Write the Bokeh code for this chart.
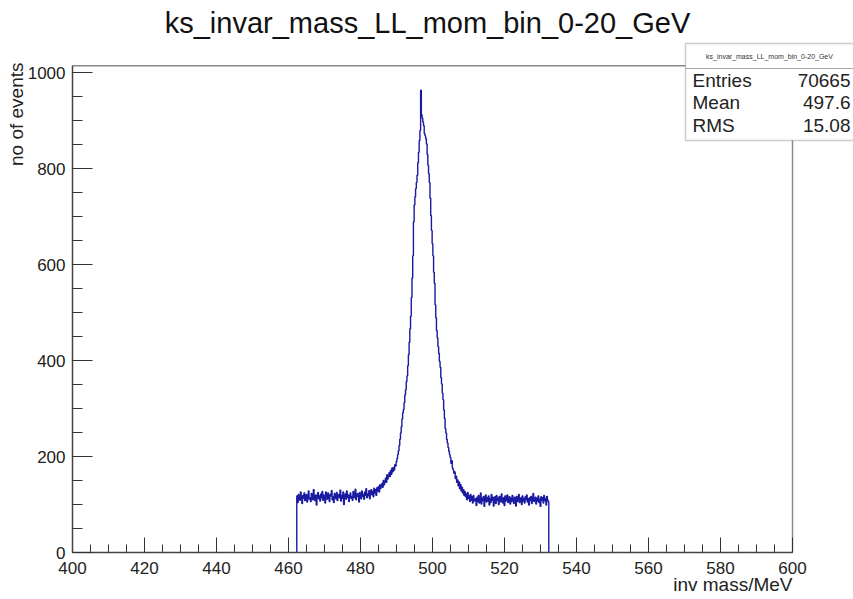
import numpy as np
from bokeh.plotting import figure
from bokeh.models import Range1d, Label, BoxAnnotation, FixedTicker, Title
from bokeh.embed import file_html
from bokeh.resources import INLINE

# ---------------- data ----------------
title_text = "ks_invar_mass_LL_mom_bin_0-20_GeV"
x_title = "inv mass/MeV"
y_title = "no of events"
bin_lo = 462.3
bin_width = 0.2

bg_left = [
    118, 104, 121, 112, 109, 126, 115, 102, 119, 113, 124, 108, 116, 121, 105, 117, 128, 111,
    114, 106, 123, 119, 110, 131, 116, 108, 120, 99, 117, 125, 112, 118, 107, 122, 114, 127,
    109, 120, 113, 103, 126, 117, 111, 124, 115, 106, 121, 118, 129, 110, 116, 104, 123, 119,
    112, 125, 108, 118, 121, 114, 130, 107, 119, 113, 126, 100, 117, 122, 111, 128, 115, 120,
    106, 119, 124, 113, 117, 109, 127, 121, 114, 132, 110, 118, 123, 116, 105, 125, 119, 112,
    128, 117, 121, 111, 126, 119, 133, 114, 122, 118, 129, 112, 124, 131, 120, 127, 116, 134,
]
rise = [
    124, 131, 119, 135, 128,
    137, 126, 141, 133, 139,
    144, 136, 150, 141, 148,
    155, 146, 162, 153, 159,
    166, 158, 171, 163, 176,
    168, 177, 172, 183, 180,
    189, 196, 204, 212, 223,
    236, 249, 262, 278, 291,
    298, 312, 328, 339, 356,
    368, 389, 412, 438, 466,
]
peak = [
    492, 531, 572, 618, 689, 724, 741, 758, 771, 786,
    812, 834, 858, 879, 963, 912, 905, 897, 889, 873,
    868, 862, 851, 829, 807, 789, 771, 738, 702, 671,
    643, 618, 584, 561, 516,
]
fall = [
    489, 462, 447, 429, 415,
    398, 386, 364, 351, 332,
    318, 297, 279, 258, 249,
    236, 228, 219, 211, 204,
    198, 186, 191, 176, 172,
    165, 168, 154, 159, 146,
    151, 139, 147, 133, 142,
    128, 136, 124, 131, 119,
    127, 116, 122, 110, 125,
    113, 118, 106, 121, 109,
    116, 103, 119, 111, 107,
]
bg_right = [
    112, 98, 115, 106, 119, 103, 110, 124, 101, 113, 108, 117, 96, 111, 120, 105, 114,
    107, 118, 99, 112, 104, 121, 109, 115, 97, 110, 116, 102, 119, 108, 113, 100, 117,
    111, 105, 122, 109, 103, 114, 98, 118, 107, 112, 120, 104, 110, 116, 101, 113, 106,
    119, 108, 102, 115, 111, 97, 117, 106, 113, 121, 104, 109, 114, 100, 118, 107, 112,
    103, 116, 110, 120, 105, 112, 99, 114, 108, 117, 102, 111, 123, 106, 109, 115, 101,
    113, 107, 118, 104, 111, 96, 116, 109, 114, 103, 119, 108, 112, 99, 117, 110, 106,
]
x_min, x_max = 400, 600
y_min, y_max = 0, 1014
x_major = [400, 420, 440, 460, 480, 500, 520, 540, 560, 580, 600]
x_minor = [400 + 5 * i for i in range(41)]
y_major = [0, 200, 400, 600, 800, 1000]
y_minor = [50 * i for i in range(21)]
stat_names = ["Entries", "Mean", "RMS"]
stat_values = ["70665", "497.6", "15.08"]

counts = bg_left + rise + peak + fall + bg_right
n = len(counts)
edges = bin_lo + bin_width * np.arange(n + 1)
xs = [edges[0]] + list(edges)
ys = [0] + counts + [0]

# ---------------- figure ----------------
FONT = "Liberation Sans"
W, H = 853, 599
LEFT, BOTTOM = 72, 47
PX_X = 3.6    # pixels per MeV
PX_Y = 0.48   # pixels per event
x_end = x_min + (W - LEFT) / PX_X
y_end = (H - BOTTOM) / PX_Y

p = figure(width=W, height=H,
           min_border_left=LEFT, min_border_right=0,
           min_border_top=0, min_border_bottom=BOTTOM,
           x_range=Range1d(x_min, x_end), y_range=Range1d(y_min, y_end),
           output_backend="svg", toolbar_location=None)
p.grid.visible = False
p.background_fill_color = "white"
p.border_fill_color = "white"
p.outline_line_color = None

# ROOT frame: top and right edges
p.segment(x0=[x_min, x_max], y0=[y_max, y_min], x1=[x_max, x_max], y1=[y_max, y_max],
          line_color="#8a8a8a", line_width=1.5)

p.step(x=xs, y=ys, mode="after", line_color="#1a1aa0", line_width=1.4)

xa, ya = p.xaxis[0], p.yaxis[0]
for ax in (xa, ya):
    ax.axis_line_color = "#444444"
    ax.axis_line_width = 1.5
    ax.major_tick_line_color = "#333333"
    ax.minor_tick_line_color = "#333333"
    ax.major_tick_out = 0
    ax.minor_tick_out = 0
    ax.major_label_text_font = FONT
    ax.major_label_text_font_size = "17px"
    ax.major_label_text_color = "#222222"

xa.bounds = (x_min, x_max)
ya.bounds = (y_min, y_max)
xa.ticker = FixedTicker(ticks=x_major, minor_ticks=x_minor)
xa.major_tick_in = 15
xa.minor_tick_in = 8
xa.major_label_standoff = 9
ya.ticker = FixedTicker(ticks=y_major, minor_ticks=y_minor)
ya.major_tick_in = 20
ya.minor_tick_in = 10
ya.major_label_standoff = 7

# axis titles as side-panel titles (right-aligned at the ROOT frame ends)
p.add_layout(Title(text=x_title, align="right", offset=W - 792, standoff=-10,
                   text_font=FONT, text_font_size="19px", text_font_style="normal",
                   text_color="#222222"), "below")
p.add_layout(Title(text=y_title, align="right", offset=62, standoff=-4,
                   text_font=FONT, text_font_size="19px", text_font_style="normal",
                   text_color="#222222"), "left")

def dx(img_x):
    return x_min + (img_x - LEFT) / PX_X

def dy(img_y):
    return (H - BOTTOM - img_y) / PX_Y

# main title
p.add_layout(Label(x=dx(427), y=dy(22), text=title_text, text_font=FONT,
                   text_font_size="29px", text_align="center",
                   text_baseline="middle", text_color="#111111"))

# stats box
p.add_layout(BoxAnnotation(left=dx(685), right=dx(900), bottom=dy(140), top=dy(43),
                           fill_color="white", fill_alpha=1,
                           line_color="#555555", line_width=1.5))
p.add_layout(BoxAnnotation(left=dx(685), right=dx(900), bottom=dy(68), top=dy(68),
                           fill_alpha=0, line_color="#555555", line_width=1))
p.add_layout(Label(x=dx(769), y=dy(56), text=title_text, text_font=FONT,
                   text_font_size="7px", text_align="center",
                   text_baseline="middle", text_color="#333333"))
for name, val, yy in zip(stat_names, stat_values, [80, 102, 125]):
    p.add_layout(Label(x=dx(692), y=dy(yy), text=name, text_font=FONT,
                       text_font_size="19px", text_align="left",
                       text_baseline="middle", text_color="#222222"))
    p.add_layout(Label(x=dx(850), y=dy(yy), text=val, text_font=FONT,
                       text_font_size="19px", text_align="right",
                       text_baseline="middle", text_color="#222222"))

open("out.html", "w").write(file_html(p, INLINE))
